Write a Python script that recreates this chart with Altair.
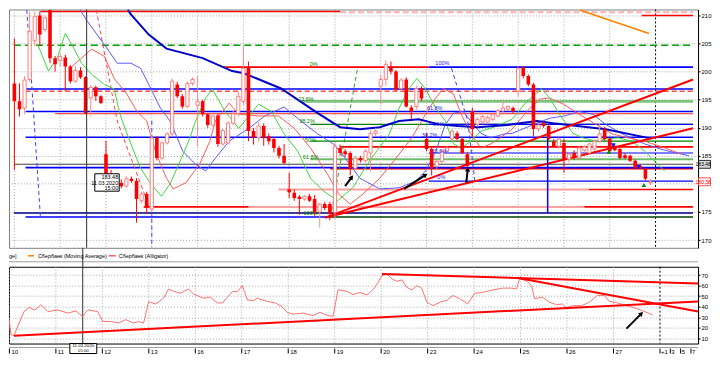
import math
import altair as alt
import pandas as pd

FONT = "Liberation Sans"

# ---------------- time axis ----------------
DAYS = ["10", "11", "12", "13", "16", "17", "18", "19", "20", "23", "24", "25", "26", "27"]
FUTURE_LABELS = ["+1", "3", "5", "7"]
FUTURE_TICKS = [126, 128, 130, 132]
BARS_PER_DAY = 9

# ---------------- hourly candles (СБЕРБАНК) ----------------
OPEN = [
    197.9, 194.7, 193.5, 198.6, 205.5, 210.0, 207.5, 211.0, 202.4,
    202.0, 202.5, 200.9, 198.3, 200.2, 199.0, 195.3, 197.2, 195.6,
    185.3, 181.8, 181.0, 180.2, 179.6, 180.9, 180.5, 177.0, 178.2,
    175.5, 188.2, 184.6, 187.3, 188.9, 197.7, 195.6, 193.8, 197.9,
    194.0, 194.7, 192.4, 190.5, 192.2, 187.1, 187.3, 190.8, 192.5,
    194.7, 200.8, 189.4, 188.2, 190.3, 188.5, 188.0, 186.4, 185.0,
    179.0, 178.4, 177.7, 177.3, 177.8, 177.3, 175.0, 176.4, 176.4,
    174.9, 186.4, 185.8, 185.5, 182.8, 184.6, 184.1, 185.5, 189.0,
    197.4, 198.6, 200.9, 200.0, 197.0, 198.6, 193.6, 193.8, 197.0,
    188.0, 186.2, 183.1, 184.0, 185.8, 188.0, 189.0, 188.0, 185.3,
    193.0, 190.6, 191.0, 191.0, 191.5, 192.1, 193.0, 193.3, 193.5,
    196.5, 200.8, 199.2, 197.7, 189.8, 190.8, 190.3, 187.6, 186.7,
    187.3, 184.4, 185.5, 184.6, 186.0, 185.5, 186.2, 187.6, 189.8,
    188.0, 186.7, 186.2, 185.1, 185.0, 184.1, 183.2, 182.6, 180.2,
]
HIGH = [
    205.9, 197.9, 199.2, 210.7, 210.7, 210.7, 210.0, 211.0, 202.8,
    203.3, 203.0, 201.2, 201.0, 200.8, 199.2, 197.6, 197.5, 195.8,
    187.7, 182.5, 181.8, 180.8, 181.4, 181.3, 181.0, 178.6, 178.6,
    188.6, 188.5, 187.6, 189.2, 198.8, 198.2, 196.0, 198.3, 199.0,
    199.2, 195.0, 192.6, 192.3, 192.5, 189.8, 191.2, 193.0, 196.5,
    204.5, 201.8, 190.0, 191.0, 190.8, 189.0, 188.3, 186.8, 187.1,
    182.0, 179.0, 178.0, 178.0, 178.2, 178.0, 176.6, 176.8, 176.8,
    187.5, 187.0, 186.2, 185.8, 185.0, 185.0, 186.2, 189.5, 190.0,
    199.5, 202.0, 201.8, 200.3, 198.8, 199.0, 194.0, 197.5, 197.4,
    189.0, 186.5, 184.3, 186.0, 186.8, 189.8, 189.4, 188.3, 185.6,
    193.6, 191.8, 192.3, 192.2, 192.7, 193.3, 195.0, 194.0, 193.8,
    200.8, 201.0, 199.5, 198.0, 190.8, 191.2, 190.6, 188.0, 188.3,
    188.0, 185.6, 186.0, 186.8, 186.9, 187.4, 187.9, 190.8, 190.2,
    188.3, 187.0, 186.5, 185.5, 185.2, 184.3, 183.5, 182.8, 180.9,
]
LOW = [
    182.5, 192.0, 192.4, 198.2, 204.5, 204.6, 207.0, 201.5, 200.0,
    201.0, 196.5, 197.9, 198.0, 198.7, 192.4, 192.0, 194.8, 194.2,
    181.5, 180.0, 179.8, 179.2, 179.3, 180.2, 173.1, 176.5, 174.7,
    175.0, 184.2, 184.3, 187.0, 188.5, 195.3, 193.4, 193.5, 197.5,
    186.7, 192.0, 190.0, 190.2, 186.6, 186.8, 187.0, 190.5, 192.0,
    194.0, 187.6, 187.0, 187.5, 186.8, 187.0, 185.6, 184.5, 183.5,
    177.5, 177.0, 174.5, 177.0, 176.8, 174.3, 172.2, 175.3, 173.5,
    173.8, 185.0, 184.8, 181.5, 182.5, 183.8, 183.8, 182.3, 188.5,
    194.2, 197.5, 199.5, 196.5, 196.5, 193.6, 191.5, 193.2, 194.8,
    185.8, 181.5, 182.6, 183.7, 185.5, 187.6, 187.7, 185.3, 182.5,
    188.5, 190.2, 190.6, 190.6, 191.2, 191.8, 192.6, 193.0, 192.6,
    195.6, 198.8, 197.4, 188.5, 189.3, 190.0, 187.7, 186.5, 186.3,
    182.0, 183.8, 184.3, 184.3, 185.6, 185.2, 185.9, 187.3, 187.7,
    185.5, 185.8, 184.4, 184.4, 183.9, 182.6, 182.6, 180.6, 179.8,
]
CLOSE = [
    194.7, 193.3, 198.5, 207.2, 209.8, 206.6, 209.6, 202.4, 201.3,
    202.7, 200.9, 198.3, 200.2, 199.0, 192.6, 197.2, 195.6, 194.4,
    181.8, 181.0, 180.5, 179.6, 180.9, 180.5, 177.3, 178.2, 175.7,
    188.2, 184.6, 187.3, 188.9, 198.3, 195.6, 193.8, 197.9, 198.6,
    194.7, 192.4, 190.5, 192.1, 187.1, 189.5, 190.8, 192.5, 195.6,
    200.6, 189.4, 188.2, 190.3, 188.2, 187.6, 186.4, 185.0, 183.7,
    178.5, 177.5, 177.3, 177.8, 177.0, 174.8, 176.4, 175.7, 174.7,
    186.7, 185.5, 185.3, 182.8, 184.6, 184.2, 185.8, 189.0, 189.4,
    198.6, 201.3, 200.0, 196.8, 198.5, 193.8, 192.9, 197.0, 195.2,
    186.2, 182.8, 184.0, 185.8, 186.4, 189.4, 188.0, 185.5, 183.2,
    189.8, 191.5, 192.0, 191.8, 192.4, 193.0, 193.5, 193.8, 192.9,
    200.6, 199.2, 197.7, 189.8, 190.5, 190.3, 188.0, 186.7, 188.0,
    184.4, 185.3, 184.6, 186.4, 186.6, 187.1, 187.6, 188.9, 188.0,
    185.8, 186.0, 184.6, 184.6, 184.1, 182.8, 182.8, 180.9, 180.38,
]

# ---------------- indicators (bar index, value) ----------------
MA_I = [22.3, 22.9, 26.4, 29.9, 37.0, 42.8, 45.1, 52.4, 59.6, 64.0, 67.9, 71.8, 75.6, 79.5,
        83.4, 87.2, 91.1, 96.9, 102.7, 105.9, 116.2, 124.5]
MA_P = [211.0, 210.2, 206.6, 204.1, 202.4, 200.1, 199.7, 197.0, 192.6, 190.1, 189.75, 190.1,
        191.2, 191.5, 190.6, 190.3, 190.1, 190.5, 191.2, 190.8, 189.75, 188.2]
MA2_I = [111.1, 124.7]
MA2_P = [211.0, 206.8]

LIPS_I = [4.6, 6.7, 8.4, 10.0, 11.3, 13.2, 15.2, 17.7, 19.6, 20.6, 21.2, 22.9, 24.8, 26.8, 28.9,
          30.6, 32.6, 34.5, 35.6, 37.6, 38.9, 41.4, 44.1, 48.0, 50.5, 53.0, 55.7, 58.2, 60.8, 63.5,
          66.5, 69.8, 73.7, 75.6, 77.6, 79.1, 80.8, 82.8, 84.7, 86.3, 87.8, 89.7, 91.7, 93.6, 95.5,
          97.8, 100.7, 103.6, 105.2, 107.1, 109.8, 111.7, 114.3, 116.2, 118.7, 121.4, 123.9, 126.4, 127.8]
LIPS_P = [204.8, 200.1, 202.4, 206.8, 204.8, 201.5, 199.5, 197.7, 196.9, 192.9, 191.2, 187.1, 182.8,
          180.0, 177.8, 180.0, 184.1, 188.2, 191.2, 195.3, 196.9, 192.9, 189.9, 194.2, 192.9, 188.9,
          185.8, 181.0, 178.7, 177.0, 179.3, 184.1, 188.9, 193.5, 197.0, 198.8, 196.9, 193.5, 191.2,
          187.1, 186.4, 187.6, 189.4, 189.9, 190.6, 191.5, 194.7, 196.9, 195.3, 192.4, 189.0, 188.2,
          187.6, 188.0, 188.2, 187.6, 185.8, 183.5, 182.3]

TEETH_I = [11.3, 15.2, 17.7, 19.6, 22.1, 24.1, 26.0, 27.9, 29.9, 31.2, 33.7, 36.4, 38.4, 39.5, 42.2,
           44.1, 48.0, 51.9, 55.0, 58.2, 61.5, 63.7, 66.0, 68.5, 71.8, 75.0, 78.1, 80.8, 82.8, 84.3,
           86.3, 87.8, 89.7, 91.7, 93.6, 95.5, 97.8, 100.7, 103.2, 105.2, 107.9, 111.0, 114.3, 117.5,
           120.6, 123.9, 127.8, 131.1]
TEETH_P = [200.9, 204.0, 202.7, 198.8, 196.0, 192.9, 191.2, 185.3, 181.0, 179.1, 180.2, 183.5, 187.6,
           191.2, 194.4, 192.4, 192.1, 192.1, 189.9, 186.4, 181.8, 178.2, 176.4, 178.2, 181.0, 184.6,
           188.2, 192.4, 195.3, 197.0, 196.0, 192.4, 188.9, 186.4, 187.1, 188.2, 189.75, 192.9, 195.1,
           195.3, 194.2, 192.4, 190.6, 188.9, 188.2, 187.6, 186.4, 185.3]

JAW_I = [12.9, 14.4, 17.7, 20.2, 22.9, 24.8, 26.8, 28.7, 30.6, 33.1, 35.6, 37.6, 39.5, 42.2, 46.1,
         49.2, 53.0, 56.3, 59.6, 62.7, 64.0, 67.9, 71.8, 75.6, 78.9, 80.8, 82.8, 84.7, 86.3, 88.2,
         89.7, 91.7, 93.6, 96.3, 97.8, 102.1, 105.2, 108.1, 111.0, 113.7, 116.2, 119.5, 123.9, 127.8, 132.6]
JAW_P = [211.0, 208.9, 204.8, 201.5, 201.5, 200.6, 197.0, 193.5, 191.2, 185.8, 183.5, 182.3, 184.6,
         187.6, 189.9, 192.1, 193.7, 191.2, 188.9, 187.1, 185.8, 181.0, 179.1, 179.3, 180.5, 182.3,
         185.8, 190.6, 192.6, 192.9, 191.2, 189.0, 188.2, 188.9, 189.0, 190.6, 191.7, 192.1, 192.9,
         192.4, 190.6, 188.9, 187.1, 186.0, 185.0]

# ---------------- drawings: horizontal levels ----------------
LEVEL_PRICE = [210.7, 210.6, 210.0, 204.7, 200.8, 200.8, 196.9, 196.5, 194.7, 192.9, 192.5,
               190.6, 190.6, 188.3, 187.6, 186.6, 185.5, 184.4, 183.5, 182.9, 182.7, 180.5,
               179.0, 179.0, 175.9, 175.9, 175.9, 174.8, 174.1, 174.1]
LEVEL_FROM = [5.1, 64.0, 123.3, -0.08, 40.9, 81.4, 2.2, 2.2, 56.3, 2.2, 8.0,
              58.2, 81.4, 2.2, 58.2, 64.0, 81.4, 58.2, -0.08, 2.2, 62.1, 81.4,
              51.9, 112.9, 25.4, 46.0, 112.0, -0.08, 2.2, 62.1]
LEVEL_TO = [64.0, 133.37, 133.37, 133.37, 81.4, 133.37, 133.37, 133.37, 133.37, 133.37, 133.37,
            133.37, 133.37, 133.37, 133.37, 133.37, 133.37, 133.37, 133.37, 133.37, 133.37, 133.37,
            112.9, 133.37, 46.0, 112.0, 133.37, 133.37, 62.1, 133.37]
LEVEL_KIND = ["red", "pink_dash", "red", "green_dash", "red", "blue", "blue", "red_dash",
              "green_thick", "blue", "red_thin", "green", "blue_thin", "blue", "green", "red",
              "blue_thin", "green_thick2", "cross", "blue", "red", "blue_thin", "red_light", "red",
              "red", "red_light", "red", "navy", "blue", "dkgreen"]

# dashed drawing lines
DASH_BLUE1_I = [2.44, 5.1]
DASH_BLUE1_P = [211.0, 174.3]
DASH_RED_I = [16.1, 20.2, 26.8]
DASH_RED_P = [211.0, 191.2, 175.2]
DASH_GREEN_I = [62.1, 67.5]
DASH_GREEN_P = [173.9, 200.9]
DASH_BLUE2_I = [85.9, 89.1, 90.5]
DASH_BLUE2_P = [200.6, 191.2, 180.5]
VDASH_I = 27.0
VDASH_P = [191.2, 168.7]

# trend lines
TREND_I0 = [61.1, 61.1]
TREND_P0 = [174.0, 174.0]
TREND_I1 = [133.37, 133.37]
TREND_P1 = [198.6, 189.9]
VLINE_I = 104.8
VLINE_P = [189.75, 174.8]

# arrows
ARROW_I0 = [65.0, 76.6, 88.8]
ARROW_P0 = [179.6, 179.1, 180.2]
ARROW_I1 = [66.3, 80.8, 89.1]
ARROW_P1 = [181.2, 181.6, 182.6]

# signals
SELL_I = [117.7, 122.7]
SELL_P = [186.9, 183.0]
BUY_I = [116.8, 123.7]
BUY_P = [185.7, 179.8]

# fibonacci labels
FIB2_LABELS = ["0%", "23.6%", "38.2%", "50%", "61.8%", "100%"]
FIB2_I = [58.8, 57.3, 57.5, 58.2, 58.2, 58.2]
FIB2_P = [201.3, 195.1, 191.2, 187.8, 184.8, 174.8]
FIB3_LABELS = ["100%", "61.8%", "50%", "38.2%", "23.6%", "0%"]
FIB3_I = [84.1, 82.6, 83.4, 81.6, 83.5, 83.9]
FIB3_P = [201.5, 193.5, 190.6, 188.7, 185.8, 181.2]

CROSS_I = 14.2
CROSS_PRICE = 183.48
CROSS_DATE = "11.03.2020"
CROSS_TIME = "15:00"
LAST_PRICE = 180.38

# price axis: the 180 label sits under the last-price tag
PRICE_TICKS = [170, 175, 185, 190, 195, 200, 205, 210]
PRICE_GRID_HIDDEN = [180]

# ---------------- oscillator panel ----------------
OSC_I = [-0.08, 0.3, 0.89, 2.82, 3.79, 4.94, 6.10, 7.45, 9.39, 11.32, 12.86, 14.21, 15.18, 17.11,
         18.08, 19.62, 21.17, 22.52, 24.06, 25.03, 25.99, 26.96, 28.31, 29.86, 30.82, 31.79, 33.14,
         34.68, 35.65, 37.58, 38.93, 40.28, 41.25, 43.18, 44.15, 45.12, 46.08, 47.24, 48.01, 49.94,
         51.49, 52.84, 53.80, 54.96, 56.89, 58.82, 60.18, 61.72, 62.69, 63.65, 65.39, 66.55, 67.90,
         69.25, 70.80, 72.15, 73.12, 74.08, 75.05, 76.01, 76.98, 77.95, 78.91, 79.88, 80.84, 82.00,
         83.74, 84.71, 85.87, 87.22, 88.76, 90.11, 91.66, 93.59, 95.52, 97.26, 98.23, 98.81, 100.16,
         101.13, 101.71, 103.24, 104.60, 105.95, 107.11, 107.88, 109.04, 110.78, 112.32, 113.87,
         115.22, 116.19, 117.73, 119.47, 121.02, 122.56, 124.49]
OSC_V = [29, 13.4, 13, 35.4, 39.4, 36.9, 42, 35.4, 36.9, 34, 36, 30.7, 37, 35.4,
         26, 26, 24.6, 27.8, 24.6, 26, 24.6, 44.8, 42.6, 48, 56.8, 54.6, 52.8,
         56.8, 52, 48, 49, 43.6, 43.6, 54.3, 54.3, 60, 46.4, 45.8, 48, 45,
         43.6, 40, 34.7, 33, 34, 31.6, 34.7, 31.6, 31, 56, 54.6, 51.5, 53.5,
         51, 58.3, 69.3, 71, 66.3, 64, 65.4, 58.3, 55.8, 60, 57.3, 44.3, 41,
         45, 46, 50.7, 47.6, 42.7, 52.7, 53.6, 55.8, 57.6, 57.6, 56.8, 66.6, 64.4,
         60, 47.6, 49, 44.3, 42, 42.6, 39, 41, 41, 44.3, 50.7,
         50.7, 45, 43.6, 41, 39, 36.4, 32.4]
OSC_TREND_I0 = [0.89, 72.15, 98.8]
OSC_TREND_V0 = [12.6, 71.0, 67.0]
OSC_TREND_I1 = [133.37, 133.37, 133.37]
OSC_TREND_V1 = [45.0, 62.0, 35.5]
OSC_ARROW = [119.5, 19.3, 122.4, 33.5]

# ---------------- layout ----------------
W = 691
H_MAIN = 239
H_LEG = 19
H_OSC = 77
H_STRIP = 10
X_DOM = [-0.08, 133.37]
Y_DOM = [168.61, 211.07]
V_DOM = [5.2, 77.8]

xs = alt.Scale(domain=X_DOM, nice=False, zero=False)
ys = alt.Scale(domain=Y_DOM, nice=False, zero=False)
vs = alt.Scale(domain=V_DOM, nice=False, zero=False)

AXIS_STYLE = dict(orient="right", grid=True, gridColor="#a8a8a8", gridDash=[1, 2], gridWidth=1,
                  tickSize=2, tickColor="#000", domainColor="#000", labelFontSize=6,
                  labelFont=FONT, labelColor="#000", labelPadding=1, title=None, format="d")
MAIN_AXIS = alt.Axis(values=PRICE_TICKS, **AXIS_STYLE)
OSC_AXIS = alt.Axis(values=list(range(10, 71, 10)), **AXIS_STYLE)


def X(f):
    return alt.X(f, type="quantitative", scale=xs, axis=None)


def Y(f):
    return alt.Y(f, type="quantitative", scale=ys, axis=MAIN_AXIS)


def V(f):
    return alt.Y(f, type="quantitative", scale=vs, axis=OSC_AXIS)


def series(i_list, p_list):
    return pd.DataFrame({"i": i_list, "p": p_list, "k": list(range(len(i_list)))})


n = len(OPEN)
bars = pd.DataFrame({"i": list(range(n)), "o": OPEN, "h": HIGH, "l": LOW, "c": CLOSE})
bull = bars[bars.c >= bars.o]
bear = bars[bars.c < bars.o]

day_df = pd.DataFrame({"i": [BARS_PER_DAY * k for k in range(len(DAYS))], "lab": DAYS})
fut_df = pd.DataFrame({"i": FUTURE_TICKS, "lab": FUTURE_LABELS})
end_df = pd.DataFrame({"i": [BARS_PER_DAY * len(DAYS)]})
one = pd.DataFrame({"z": [0]})

# ---------------- main panel ----------------
layers = []
layers.append(alt.Chart(bars).mark_rule(strokeWidth=0, clip=True).encode(x=X("i"), y=Y("l"), y2="h"))
layers.append(alt.Chart(pd.DataFrame({"p": PRICE_GRID_HIDDEN}))
              .mark_rule(color="#a8a8a8", strokeDash=[1, 2], strokeWidth=1).encode(y=Y("p")))
layers.append(alt.Chart(day_df).mark_rule(color="#a8a8a8", strokeDash=[1, 2], strokeWidth=1)
              .encode(x=X("i")))
layers.append(alt.Chart(end_df).mark_rule(color="#000", strokeDash=[2, 2], strokeWidth=1)
              .encode(x=X("i")))

LEVEL_STYLE = {
    "green_dash": ("#00a000", 1.3, [7, 4]),
    "green_thick": ("#7cc47c", 3, None),
    "green_thick2": ("#6cbc6c", 2, None),
    "green": ("#008000", 1.3, None),
    "dkgreen": ("#004000", 1.6, None),
    "pink_dash": ("#ffb0b0", 2, [6, 3]),
    "red_light": ("#ffa0a0", 2, None),
    "red_dash": ("#ff5050", 1.4, [5, 3]),
    "red": ("#ff0000", 1.6, None),
    "red_thin": ("#ff2020", 1, None),
    "blue_thin": ("#0000ff", 1.2, None),
    "blue": ("#0000ff", 1.6, None),
    "navy": ("#000080", 1.6, None),
    "cross": ("#404040", 1, None),
}
lv = pd.DataFrame({"p": LEVEL_PRICE, "a": LEVEL_FROM, "b": LEVEL_TO, "kind": LEVEL_KIND})
for kind, (col, w, dash) in LEVEL_STYLE.items():
    sub = lv[lv.kind == kind]
    if sub.empty:
        continue
    mk = dict(color=col, strokeWidth=w, clip=True)
    if dash:
        mk["strokeDash"] = dash
    layers.append(alt.Chart(sub).mark_rule(**mk).encode(x=X("a"), x2="b", y=Y("p")))

for (ii, pp, col) in [(DASH_BLUE1_I, DASH_BLUE1_P, "#4040ff"), (DASH_RED_I, DASH_RED_P, "#ff4040"),
                      (DASH_GREEN_I, DASH_GREEN_P, "#30a030"), (DASH_BLUE2_I, DASH_BLUE2_P, "#4040ff")]:
    layers.append(alt.Chart(series(ii, pp)).mark_line(color=col, strokeWidth=1, strokeDash=[4, 3], clip=True)
                  .encode(x=X("i"), y=Y("p"), order="k:Q"))
layers.append(alt.Chart(pd.DataFrame({"i": [VDASH_I], "a": [VDASH_P[0]], "b": [VDASH_P[1]]}))
              .mark_rule(color="#4040ff", strokeWidth=1, strokeDash=[4, 3], clip=True)
              .encode(x=X("i"), y=Y("a"), y2="b"))

for (ii, pp, col, w) in [(JAW_I, JAW_P, "#5a5aff", 1), (TEETH_I, TEETH_P, "#ff5a5a", 1),
                         (LIPS_I, LIPS_P, "#3fd83f", 1), (MA_I, MA_P, "#0000c8", 2),
                         (MA2_I, MA2_P, "#ff8000", 1.6)]:
    layers.append(alt.Chart(series(ii, pp)).mark_line(color=col, strokeWidth=w, clip=True)
                  .encode(x=X("i"), y=Y("p"), order="k:Q"))

trend = pd.DataFrame({"a": TREND_I0, "pa": TREND_P0, "b": TREND_I1, "pb": TREND_P1})
layers.append(alt.Chart(trend).mark_rule(color="#ff0000", strokeWidth=2, clip=True)
              .encode(x=X("a"), y=Y("pa"), x2="b", y2="pb"))
layers.append(alt.Chart(pd.DataFrame({"i": [VLINE_I], "a": [VLINE_P[0]], "b": [VLINE_P[1]]}))
              .mark_rule(color="#0000ff", strokeWidth=1.5).encode(x=X("i"), y=Y("a"), y2="b"))

# candles
layers.append(alt.Chart(bars).mark_rule(strokeWidth=1, clip=True).encode(
    x=X("i"), y=Y("l"), y2="h",
    color=alt.condition("datum.c >= datum.o", alt.value("#ff8a8a"), alt.value("#ff0000"))))
layers.append(alt.Chart(bear).mark_bar(size=3.6, color="#ff0000", clip=True)
              .encode(x=X("i"), y=Y("o"), y2="c"))
layers.append(alt.Chart(bull).mark_bar(size=3.2, fill="#ffffff", stroke="#ff7070", strokeWidth=0.9, clip=True)
              .encode(x=X("i"), y=Y("o"), y2="c"))

# crosshair vertical
layers.append(alt.Chart(pd.DataFrame({"i": [CROSS_I]})).mark_rule(color="#303030", strokeWidth=1)
              .encode(x=X("i")))

# arrows
PX_I = W / (X_DOM[1] - X_DOM[0])
PX_P = H_MAIN / (Y_DOM[1] - Y_DOM[0])
arr = pd.DataFrame({"a": ARROW_I0, "pa": ARROW_P0, "b": ARROW_I1, "pb": ARROW_P1})
arr["ang"] = [math.degrees(math.atan2((b - a) * PX_I, (pb - pa) * PX_P)) % 360
              for a, pa, b, pb in zip(ARROW_I0, ARROW_P0, ARROW_I1, ARROW_P1)]
layers.append(alt.Chart(arr).mark_rule(color="#000", strokeWidth=2)
              .encode(x=X("a"), y=Y("pa"), x2="b", y2="pb"))
layers.append(alt.Chart(arr).mark_point(shape="triangle-up", filled=True, color="#000", size=28, opacity=1)
              .encode(x=X("b"), y=Y("pb"), angle=alt.Angle("ang:Q", scale=None)))

# signals
layers.append(alt.Chart(series(SELL_I, SELL_P)).mark_point(shape="triangle-down", filled=True, color="#1010ff", size=22, opacity=1)
              .encode(x=X("i"), y=Y("p")))
layers.append(alt.Chart(series(BUY_I, BUY_P)).mark_point(shape="triangle-up", filled=True, color="#009000", size=22, opacity=1)
              .encode(x=X("i"), y=Y("p")))

# fib labels
layers.append(alt.Chart(pd.DataFrame({"p": FIB2_P, "t": FIB2_LABELS, "i": FIB2_I}))
              .mark_text(font=FONT, fontSize=5.5, color="#008000", align="center", baseline="middle")
              .encode(x=X("i"), y=Y("p"), text="t:N"))
layers.append(alt.Chart(pd.DataFrame({"p": FIB3_P, "t": FIB3_LABELS, "i": FIB3_I}))
              .mark_text(font=FONT, fontSize=5.5, color="#2020e0", align="center", baseline="middle")
              .encode(x=X("i"), y=Y("p"), text="t:N"))

# crosshair tooltip
tip = pd.DataFrame({"a": [15.8], "b": [20.6], "pa": [181.8], "pb": [178.7]})
layers.append(alt.Chart(tip).mark_rect(fill="#ffffff", stroke="#000", strokeWidth=1)
              .encode(x=X("a"), x2="b", y=Y("pa"), y2="pb"))
tip_txt = pd.DataFrame({"i": [20.4] * 3, "p": [181.25, 180.2, 179.2],
                        "t": [f"{CROSS_PRICE:.2f}", CROSS_DATE, CROSS_TIME]})
layers.append(alt.Chart(tip_txt).mark_text(font=FONT, fontSize=5.5, color="#000", align="right", baseline="middle")
              .encode(x=X("i"), y=Y("p"), text="t:N"))

# price tags on the axis (kept inside the page width)
tags = pd.DataFrame({"p": [CROSS_PRICE, LAST_PRICE], "t": [f"{CROSS_PRICE:.2f}", f"{LAST_PRICE:.2f}"]})
tags["a"] = tags.p + 0.7
tags["b"] = tags.p - 0.7
layers.append(alt.Chart(tags.iloc[[0]]).mark_rect(fill="#d8d8d8", stroke="#000", strokeWidth=0.8)
              .encode(x=alt.value(W + 0.5), x2=alt.value(W + 12.5), y=Y("a"), y2="b"))
layers.append(alt.Chart(tags.iloc[[1]]).mark_rect(fill="#fff4f4", stroke="#ff3030", strokeWidth=0.8)
              .encode(x=alt.value(W + 0.5), x2=alt.value(W + 12.5), y=Y("a"), y2="b"))
layers.append(alt.Chart(tags.iloc[[0]]).mark_text(font=FONT, fontSize=5, color="#000", baseline="middle", align="right")
              .encode(x=alt.value(W + 12.8), y=Y("p"), text="t:N"))
layers.append(alt.Chart(tags.iloc[[1]]).mark_text(font=FONT, fontSize=5, color="#ff0000", baseline="middle", align="right")
              .encode(x=alt.value(W + 12.8), y=Y("p"), text="t:N"))

main = alt.layer(*layers).properties(width=W, height=H_MAIN,
                                      view=alt.ViewBackground(stroke="#808080", strokeWidth=1))

# ---------------- legend strip ----------------
leg_layers = [
    alt.Chart(one).mark_rule(color="#a0a0a0").encode(x=alt.value(0), x2=alt.value(W), y=alt.value(14)),
    alt.Chart(one).mark_rule(color="#303030").encode(x=alt.value(74), y=alt.value(0), y2=alt.value(H_LEG)),
    alt.Chart(one).mark_text(font=FONT, fontSize=5.5, align="left", baseline="middle", color="#000")
    .encode(x=alt.value(0), y=alt.value(8), text=alt.value("ge]")),
    alt.Chart(one).mark_rule(color="#ff8000", strokeWidth=1.5).encode(x=alt.value(19), x2=alt.value(25), y=alt.value(8)),
    alt.Chart(one).mark_text(font=FONT, fontSize=5.5, align="left", baseline="middle", color="#000")
    .encode(x=alt.value(29), y=alt.value(8), text=alt.value("Сбербанк (Moving Average)")),
    alt.Chart(one).mark_rule(color="#ff5a5a", strokeWidth=1.5).encode(x=alt.value(100), x2=alt.value(107), y=alt.value(8)),
    alt.Chart(one).mark_text(font=FONT, fontSize=5.5, align="left", baseline="middle", color="#000")
    .encode(x=alt.value(110), y=alt.value(8), text=alt.value("Сбербанк (Alligator)")),
]
legend = alt.layer(*leg_layers).properties(width=W, height=H_LEG, view=alt.ViewBackground(stroke=None))

# ---------------- oscillator panel ----------------
osc_df = pd.DataFrame({"i": OSC_I, "v": OSC_V, "k": list(range(len(OSC_I)))})
osc_layers = []
osc_layers.append(alt.Chart(osc_df).mark_line(strokeWidth=0, clip=True)
                  .encode(x=X("i"), y=V("v"), order="k:Q"))
osc_layers.append(alt.Chart(day_df).mark_rule(color="#a8a8a8", strokeDash=[1, 2]).encode(x=X("i")))
osc_layers.append(alt.Chart(end_df).mark_rule(color="#000", strokeDash=[2, 2]).encode(x=X("i")))
osc_layers.append(alt.Chart(pd.DataFrame({"i": [CROSS_I]})).mark_rule(color="#303030").encode(x=X("i")))
osc_layers.append(alt.Chart(osc_df).mark_line(color="#ff7070", strokeWidth=1, clip=True)
                  .encode(x=X("i"), y=V("v"), order="k:Q"))
osc_tr = pd.DataFrame({"a": OSC_TREND_I0, "va": OSC_TREND_V0, "b": OSC_TREND_I1, "vb": OSC_TREND_V1})
osc_layers.append(alt.Chart(osc_tr).mark_rule(color="#ff0000", strokeWidth=2, clip=True)
                  .encode(x=X("a"), y=V("va"), x2="b", y2="vb"))
PX_V = H_OSC / (V_DOM[1] - V_DOM[0])
oa = pd.DataFrame({"a": [OSC_ARROW[0]], "va": [OSC_ARROW[1]], "b": [OSC_ARROW[2]], "vb": [OSC_ARROW[3]]})
oa["ang"] = [math.degrees(math.atan2((OSC_ARROW[2] - OSC_ARROW[0]) * PX_I, (OSC_ARROW[3] - OSC_ARROW[1]) * PX_V)) % 360]
osc_layers.append(alt.Chart(oa).mark_rule(color="#000", strokeWidth=2).encode(x=X("a"), y=V("va"), x2="b", y2="vb"))
osc_layers.append(alt.Chart(oa).mark_point(shape="triangle-up", filled=True, color="#000", size=28, opacity=1)
                  .encode(x=X("b"), y=V("vb"), angle=alt.Angle("ang:Q", scale=None)))
osc = alt.layer(*osc_layers).properties(width=W, height=H_OSC,
                                         view=alt.ViewBackground(stroke="#000", strokeWidth=1))

# ---------------- time strip ----------------
strip_layers = [
    alt.Chart(one).mark_rule(color="#a0a0a0").encode(x=alt.value(0), x2=alt.value(W), y=alt.value(4)),
    alt.Chart(day_df).mark_rule(color="#000").encode(x=X("i"), y=alt.value(5), y2=alt.value(10)),
    alt.Chart(fut_df).mark_rule(color="#000").encode(x=X("i"), y=alt.value(5), y2=alt.value(10)),
    alt.Chart(day_df).mark_text(font=FONT, fontSize=6, align="left", baseline="middle", dx=2, color="#000")
    .encode(x=X("i"), y=alt.value(8.5), text="lab:N"),
    alt.Chart(fut_df).mark_text(font=FONT, fontSize=6, align="left", baseline="middle", dx=1, color="#000")
    .encode(x=X("i"), y=alt.value(8.5), text="lab:N"),
    alt.Chart(one).mark_rect(fill="#ffffff", stroke="#000", strokeWidth=1)
    .encode(x=alt.value(61), x2=alt.value(88), y=alt.value(0), y2=alt.value(10)),
    alt.Chart(one).mark_text(font=FONT, fontSize=4.4, align="center", baseline="middle", color="#000")
    .encode(x=alt.value(74.5), y=alt.value(2.5), text=alt.value(CROSS_DATE)),
    alt.Chart(one).mark_text(font=FONT, fontSize=4.4, align="center", baseline="middle", color="#000")
    .encode(x=alt.value(74.5), y=alt.value(7.6), text=alt.value(CROSS_TIME)),
]
strip = alt.layer(*strip_layers).properties(width=W, height=H_STRIP, view=alt.ViewBackground(stroke=None))

chart = alt.vconcat(main, legend, osc, strip, spacing=0, bounds="flush").properties(
    padding=0, background="#ffffff")

chart.save("out.html", embed_options={"renderer": "svg", "actions": False})
